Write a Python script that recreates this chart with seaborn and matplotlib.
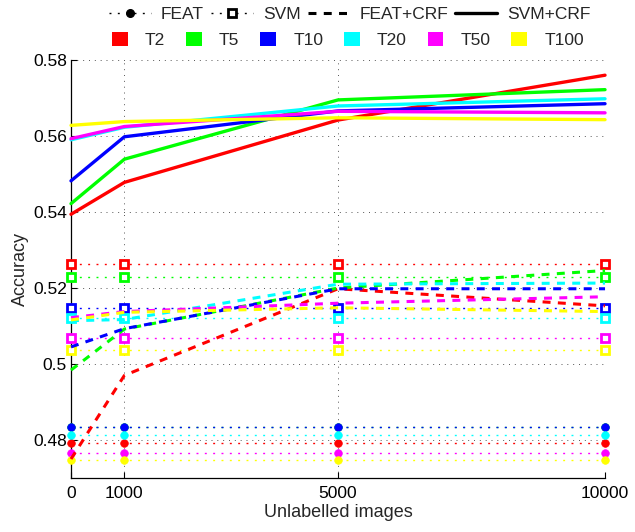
import numpy as np
import pandas as pd
import seaborn as sns
import matplotlib
matplotlib.use("Agg")
import matplotlib.pyplot as plt
from matplotlib.lines import Line2D
from matplotlib.patches import Patch
from matplotlib.ticker import FuncFormatter

# ---------------- data ----------------
x_vals = [0, 1000, 5000, 10000]
tasks = ["T2", "T5", "T10", "T20", "T50", "T100"]
task_colors = ["#ff0000", "#00ff00", "#0000ff", "#00ffff", "#ff00ff", "#ffff00"]
methods = ["FEAT", "SVM", "FEAT+CRF", "SVM+CRF"]

feat = [0.4792, 0.4833, 0.4833, 0.4812, 0.4765, 0.4747]        # constant baselines
svm = [0.5264, 0.5229, 0.5147, 0.5122, 0.5069, 0.5036]         # constant baselines

feat_crf_T2 = [0.4750, 0.4970, 0.5198, 0.5153]
feat_crf_T5 = [0.4984, 0.5092, 0.5200, 0.5246]
feat_crf_T10 = [0.5045, 0.5093, 0.5198, 0.5198]
feat_crf_T20 = [0.5114, 0.5117, 0.5210, 0.5213]
feat_crf_T50 = [0.5122, 0.5138, 0.5160, 0.5177]
feat_crf_T100 = [0.5116, 0.5136, 0.5148, 0.5138]

svm_crf_T2 = [0.5394, 0.5478, 0.5642, 0.5760]
svm_crf_T5 = [0.5422, 0.5539, 0.5695, 0.5722]
svm_crf_T10 = [0.5482, 0.5598, 0.5666, 0.5685]
svm_crf_T20 = [0.5590, 0.5623, 0.5679, 0.5698]
svm_crf_T50 = [0.5593, 0.5625, 0.5665, 0.5661]
svm_crf_T100 = [0.5628, 0.5638, 0.5648, 0.5643]

y_ticks = [0.48, 0.50, 0.52, 0.54, 0.56, 0.58]
x_label = "Unlabelled images"
y_label = "Accuracy"

feat_crf = [feat_crf_T2, feat_crf_T5, feat_crf_T10, feat_crf_T20, feat_crf_T50, feat_crf_T100]
svm_crf = [svm_crf_T2, svm_crf_T5, svm_crf_T10, svm_crf_T20, svm_crf_T50, svm_crf_T100]

rows = []
for i, t in enumerate(tasks):
    for j, xv in enumerate(x_vals):
        rows.append(dict(x=xv, acc=feat[i], task=t, method="FEAT"))
        rows.append(dict(x=xv, acc=svm[i], task=t, method="SVM"))
        rows.append(dict(x=xv, acc=feat_crf[i][j], task=t, method="FEAT+CRF"))
        rows.append(dict(x=xv, acc=svm_crf[i][j], task=t, method="SVM+CRF"))
df = pd.DataFrame(rows)

# ---------------- style ----------------
sns.set_theme(style="white")
plt.rcParams["font.family"] = ["Liberation Sans", "DejaVu Sans"]

palette = dict(zip(tasks, task_colors))

fig = plt.figure(figsize=(6.35, 5.32), dpi=100)
ax = fig.add_axes([0.1118, 0.1015, 0.8410, 0.7857])

dot_ls = (0, (1.4, 4.6))
method_kws = {
    "FEAT": dict(linewidth=1.0, linestyle=dot_ls, marker="o", markersize=5.5),
    "SVM": dict(linewidth=1.0, linestyle=dot_ls, marker="s", markersize=6.0),
    "FEAT+CRF": dict(linewidth=2.2, linestyle=(0, (2.6, 2.4))),
    "SVM+CRF": dict(linewidth=2.4, linestyle="-"),
}

for m in methods:
    n0 = len(ax.lines)
    sub = df[df["method"] == m]
    sns.lineplot(data=sub, x="x", y="acc", hue="task", hue_order=tasks,
                 palette=palette, legend=False, ax=ax, clip_on=False,
                 **method_kws[m])
    for ln in ax.lines[n0:]:
        c = ln.get_color()
        ln.set_markeredgecolor(c)
        if m == "SVM":
            ln.set_markerfacecolor("white")
            ln.set_markeredgewidth(2.0)
        else:
            ln.set_markerfacecolor(c)
            ln.set_markeredgewidth(0.5)
        ln.set_zorder(3 if m in ("FEAT", "SVM") else 4)

ax.set_xlim(0, 10000)
ax.set_ylim(0.47, 0.58)
ax.set_xticks(x_vals)
ax.set_yticks(y_ticks)
ax.yaxis.set_major_formatter(FuncFormatter(lambda v, p: f"{v:g}"))
ax.set_xlabel(x_label, fontsize=13, labelpad=2)
ax.set_ylabel(y_label, fontsize=13, labelpad=3)
ax.tick_params(axis="both", direction="in", length=4, width=0.8,
               labelsize=12.5, colors="black", pad=3, left=True, bottom=True)
ax.tick_params(axis="x", pad=6)
for s in ["top", "right"]:
    ax.spines[s].set_visible(False)
for s in ["left", "bottom"]:
    ax.spines[s].set_color("black")
    ax.spines[s].set_linewidth(0.9)
ax.grid(True, color="#555555", linestyle=(0, (1, 5)), linewidth=0.7)
ax.set_axisbelow(True)

# ---------------- legends ----------------
h1 = [
    Line2D([], [], color="black", linewidth=1.0, linestyle=dot_ls, marker="o", markersize=5.5),
    Line2D([], [], color="black", linewidth=1.0, linestyle=dot_ls, marker="s", markersize=6,
           markerfacecolor="white", markeredgewidth=2.0),
    Line2D([], [], color="black", linewidth=2.2, linestyle=(0, (2.6, 2.4))),
    Line2D([], [], color="black", linewidth=2.4, linestyle="-"),
]
leg1 = fig.legend(h1, methods, loc="center", bbox_to_anchor=(0.551, 0.972), ncol=4,
                  frameon=False, fontsize=12.5, handlelength=2.4, handletextpad=0.6,
                  columnspacing=0.4, numpoints=1, borderaxespad=0, borderpad=0)
h2 = [Patch(facecolor=c, edgecolor="none") for c in task_colors]
leg2 = fig.legend(h2, tasks, loc="center", bbox_to_anchor=(0.548, 0.924), ncol=6,
                  frameon=False, fontsize=12.5, handlelength=0.9, handleheight=0.85,
                  handletextpad=1.0, columnspacing=1.2, borderaxespad=0, borderpad=0)

fig.savefig("out.png", dpi=100)
